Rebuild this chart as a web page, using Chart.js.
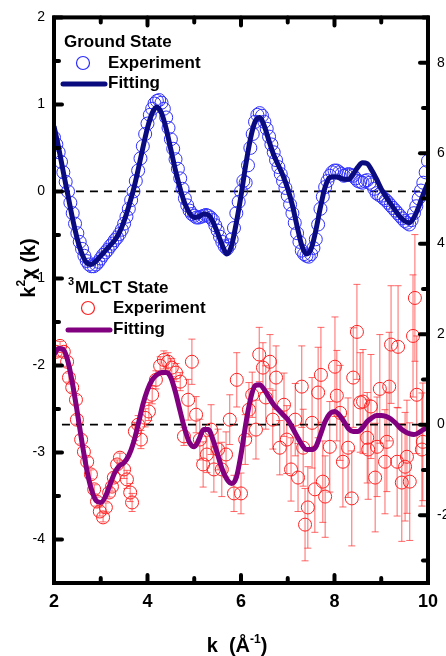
<!DOCTYPE html>
<html>
<head>
<meta charset="utf-8">
<script src="https://cdn.jsdelivr.net/npm/chart.js@4.4.1/dist/chart.umd.min.js"></script>
<style>
  body { margin: 0; background: #fff; }
</style>
</head>
<body>
<canvas id="myChart" width="446" height="656"></canvas>
<script>
// k grid for the ground state data and both fits (2.0 .. 10.0, step 0.1)
const kGrid = [];
for (let i = 0; i <= 80; i++) {
  kGrid.push(Math.round((2 + i * 0.1) * 10) / 10);
}
// in-between k values of the ground state measurement (2.05 .. 9.95)
const kMid = [];
for (let i = 0; i < 80; i++) {
  kMid.push(Math.round((2.05 + i * 0.1) * 100) / 100);
}

// ground state, left axis
const groundFit = [
  0.75, 0.50, 0.22, -0.05, -0.32, -0.55, -0.72, -0.82, -0.84, -0.80,
  -0.74, -0.68, -0.62, -0.56, -0.47, -0.34, -0.17, 0.02, 0.25, 0.50,
  0.73, 0.90, 0.97, 0.90, 0.72, 0.48, 0.24, 0.03, -0.14, -0.25,
  -0.30, -0.29, -0.26, -0.27, -0.35, -0.48, -0.62, -0.72, -0.62, -0.36,
  -0.05, 0.30, 0.60, 0.80, 0.85, 0.75, 0.58, 0.42, 0.30, 0.18,
  0.03, -0.16, -0.40, -0.62, -0.72, -0.66, -0.45, -0.18, 0.05, 0.16,
  0.17, 0.16, 0.14, 0.14, 0.20, 0.28, 0.33, 0.32, 0.24, 0.14,
  0.03, -0.06, -0.14, -0.22, -0.29, -0.34, -0.36, -0.30, -0.18, -0.03,
  0.10
];
const groundExp = [
  0.62, 0.45, 0.22, 0.00, -0.25, -0.48, -0.66, -0.80, -0.86, -0.84,
  -0.77, -0.70, -0.63, -0.56, -0.49, -0.37, -0.20, 0.00, 0.24, 0.52,
  0.78, 0.95, 1.04, 1.02, 0.85, 0.60, 0.37, 0.15, -0.08, -0.22,
  -0.28, -0.30, -0.28, -0.28, -0.33, -0.45, -0.58, -0.66, -0.55, -0.25,
  0.00, 0.10, 0.50, 0.80, 0.90, 0.80, 0.63, 0.45, 0.28, 0.12,
  -0.05, -0.25, -0.48, -0.68, -0.74, -0.72, -0.55, -0.20, 0.05, 0.18,
  0.24, 0.22, 0.18, 0.20, 0.18, 0.12, 0.10, 0.13, 0.08, -0.02,
  -0.05, -0.10, -0.16, -0.22, -0.28, -0.34, -0.38, -0.25, -0.08, 0.10,
  0.35
];
const groundExpMid = [
  0.54, 0.34, 0.11, -0.13, -0.37, -0.58, -0.74, -0.84, -0.86, -0.81,
  -0.73, -0.67, -0.60, -0.53, -0.44, -0.29, -0.10, 0.12, 0.38, 0.66,
  0.88, 1.01, 1.05, 0.95, 0.73, 0.49, 0.26, 0.03, -0.16, -0.26,
  -0.30, -0.29, -0.27, -0.30, -0.39, -0.52, -0.63, -0.62, -0.42, -0.12,
  0.12, 0.30, 0.66, 0.88, 0.87, 0.72, 0.54, 0.36, 0.20, 0.04,
  -0.15, -0.36, -0.58, -0.72, -0.75, -0.65, -0.38, -0.06, 0.12, 0.22,
  0.24, 0.20, 0.19, 0.19, 0.15, 0.11, 0.12, 0.10, 0.03, -0.04,
  -0.08, -0.13, -0.19, -0.25, -0.31, -0.36, -0.33, -0.17, 0.01, 0.22
];

// 3MLCT state, right axis
const mlctFit = [
  1.55, 1.68, 1.66, 1.39, 0.88, 0.26, -0.40, -0.99, -1.43, -1.68,
  -1.72, -1.59, -1.32, -1.06, -0.91, -0.84, -0.68, -0.40, 0.00, 0.44,
  0.77, 0.99, 1.10, 1.15, 1.15, 1.04, 0.71, 0.29, -0.11, -0.40,
  -0.49, -0.33, -0.11, -0.11, -0.33, -0.66, -0.99, -1.21, -1.30, -1.17,
  -0.66, 0.00, 0.55, 0.86, 0.88, 0.77, 0.60, 0.44, 0.33, 0.22,
  0.11, -0.07, -0.26, -0.44, -0.55, -0.55, -0.49, -0.22, 0.07, 0.24,
  0.29, 0.22, 0.07, -0.09, -0.15, -0.15, -0.07, 0.07, 0.15, 0.20,
  0.20, 0.18, 0.13, 0.04, -0.07, -0.15, -0.20, -0.22, -0.18, -0.11,
  -0.07
];
const mlctK = [
  2.04, 2.13, 2.21, 2.28, 2.32, 2.39, 2.47, 2.49, 2.58, 2.64,
  2.71, 2.79, 2.86, 2.92, 2.98, 3.05, 3.11, 3.18, 3.24, 3.28,
  3.35, 3.41, 3.50, 3.56, 3.63, 3.67, 3.73, 3.80, 3.86, 3.95,
  4.03, 4.10, 4.18, 4.27, 4.35, 4.44, 4.52, 4.61, 4.70, 4.78,
  4.87, 4.95, 5.04, 5.12, 5.19, 5.27, 5.36, 5.42, 5.51, 5.59,
  5.68, 5.76, 5.85, 5.91, 6.00, 6.09, 6.17, 6.24, 6.32, 6.39,
  6.47, 6.53, 6.62, 6.68, 6.75, 6.83, 6.92, 6.98, 7.07, 7.16,
  7.22,
  7.30, 7.33, 7.37, 7.43, 7.52, 7.58, 7.65, 7.71, 7.75, 7.80,
  7.90, 8.01, 8.05, 8.12, 8.18, 8.29, 8.37, 8.40, 8.48, 8.55,
  8.61, 8.70, 8.72, 8.78, 8.87, 8.91, 8.97, 9.08, 9.12, 9.17,
  9.21, 9.34, 9.36, 9.44, 9.51, 9.55, 9.61, 9.68, 9.72, 9.76,
  9.87, 9.89
];
const mlctExp = [
  1.61, 1.74, 1.61, 1.39, 1.04, 0.82, 0.55, 0.11, -0.33, -0.60,
  -0.82, -1.10, -1.43, -1.70, -1.92, -2.05, -1.83, -1.50, -1.37, -1.17,
  -0.88, -0.73, -0.99, -1.21, -1.50, -1.72, -0.15, 0.00, -0.33, 0.15,
  0.29, 0.66, 0.99, 1.30, 1.43, 1.39, 1.26, 1.15, 0.95, -0.26,
  0.55, 1.39, 0.22, -0.33, -0.88, -0.66, -0.11, -0.99, -0.55, -0.99,
  -0.66, 0.11, -1.52, 0.99, -1.52, -0.33, 0.33, 0.66, -0.11, 1.55,
  1.26, 0.60, 1.39, 0.11, 1.04, -0.51, 0.44, -0.33, -0.99, 0.11,
  -1.17,
  0.84, -0.51, -2.21, -1.83, 0.04, -1.43, 0.71, 1.10, -1.26, -1.59,
  -0.49, 1.28, 0.64, 0.26, -0.82, -0.51, -1.63, 1.04, 2.05, 0.49,
  0.51, -0.29, -0.55, 0.40, -1.17, -0.49, 0.79, -0.82, -0.38, 0.84,
  1.77, -0.82, 1.72, -1.28, -0.93, -0.71, -1.26, 1.96, 2.80, 0.66,
  -0.55, -0.38
];
const mlctErr = [
  0.1, 0.1, 0.1, 0.1, 0.1, 0.1, 0.1, 0.1, 0.1, 0.1,
  0.1, 0.1, 0.1, 0.1, 0.1, 0.1, 0.1, 0.1, 0.1, 0.1,
  0.1, 0.1, 0.2, 0.2, 0.2, 0.2, 0.2, 0.2, 0.2, 0.2,
  0.2, 0.2, 0.2, 0.2, 0.2, 0.2, 0.2, 0.2, 0.2, 0.2,
  0.45, 0.5, 0.4, 0.45, 0.5, 0.4, 0.55, 0.5, 0.45, 0.6,
  0.5, 0.55, 0.4, 0.6, 0.45, 0.55, 0.6, 0.5, 0.65, 0.6,
  0.55, 0.7, 0.6, 0.65, 0.7, 0.6, 0.7, 0.75, 0.7, 0.8,
  0.75,
  0.9, 0.85, 0.8, 0.9, 1.0, 0.95, 1.0, 1.05, 0.9, 0.9,
  1.0, 1.1, 1.0, 1.05, 1.0, 1.1, 1.05, 1.1, 1.05, 1.1,
  1.15, 1.0, 1.1, 1.15, 1.2, 1.1, 1.2, 1.15, 1.1, 1.2,
  1.3, 1.2, 1.35, 1.3, 1.2, 1.25, 1.3, 1.35, 1.4, 1.3,
  1.25, 1.3
];

// dashed baselines
const dashK = [2.17, 9.94];
const groundZero = [0, 0];
const mlctZero = [0, 0];

const FONT = '"Liberation Sans", Arial, sans-serif';
Chart.defaults.font.family = FONT;
Chart.defaults.color = '#000';

function pts(xs, ys) {
  return xs.map(function (x, i) { return { x: x, y: ys[i] }; });
}

// draws error bars, the thick frame, inward ticks, legends and axis titles
const decor = {
  id: 'decor',
  beforeDatasetsDraw(chart) {
    const ctx = chart.ctx, a = chart.chartArea;
    const xs = chart.scales.x, ys = chart.scales.y1;
    ctx.save();
    ctx.beginPath();
    ctx.rect(a.left, a.top, a.right - a.left, a.bottom - a.top);
    ctx.clip();
    ctx.strokeStyle = 'rgba(255,40,40,0.7)';
    ctx.lineWidth = 1;
    mlctK.forEach(function (k, i) {
      const x = xs.getPixelForValue(k);
      const yt = ys.getPixelForValue(mlctExp[i] + mlctErr[i]);
      const yb = ys.getPixelForValue(mlctExp[i] - mlctErr[i]);
      ctx.beginPath();
      ctx.moveTo(x, yt); ctx.lineTo(x, yb);
      ctx.moveTo(x - 3.5, yt); ctx.lineTo(x + 3.5, yt);
      ctx.moveTo(x - 3.5, yb); ctx.lineTo(x + 3.5, yb);
      ctx.stroke();
    });
    ctx.restore();
  },
  afterDraw(chart) {
    const ctx = chart.ctx, a = chart.chartArea;
    const xs = chart.scales.x, yl = chart.scales.y, yr = chart.scales.y1;
    ctx.save();
    ctx.strokeStyle = '#000';
    ctx.lineCap = 'round';
    ctx.lineWidth = 4;

    // ticks (inward)
    xs.ticks.forEach(function (t) {
      const x = xs.getPixelForValue(t.value);
      const len = t.value % 2 === 0 ? 8 : 5;
      ctx.beginPath();
      ctx.moveTo(x, a.bottom); ctx.lineTo(x, a.bottom - len);
      ctx.moveTo(x, a.top); ctx.lineTo(x, a.top + len);
      ctx.stroke();
    });
    yl.ticks.forEach(function (t) {
      const y = yl.getPixelForValue(t.value);
      const len = Number.isInteger(t.value) ? 8 : 5;
      ctx.beginPath();
      ctx.moveTo(a.left, y); ctx.lineTo(a.left + len, y);
      ctx.stroke();
    });
    yr.ticks.forEach(function (t) {
      if (!Number.isInteger(t.value)) return;
      const y = yr.getPixelForValue(t.value);
      const len = t.value % 2 === 0 ? 8 : 5;
      ctx.beginPath();
      ctx.moveTo(a.right, y); ctx.lineTo(a.right - len, y);
      ctx.stroke();
    });

    // frame
    ctx.lineCap = 'butt';
    ctx.strokeRect(a.left, a.top, a.right - a.left, a.bottom - a.top);

    // legend: ground state
    ctx.fillStyle = '#000';
    ctx.textBaseline = 'alphabetic';
    ctx.font = 'bold 17px ' + FONT;
    ctx.fillText('Ground State', 64, 47);
    ctx.textBaseline = 'middle';
    ctx.fillText('Experiment', 108, 63);
    ctx.fillText('Fitting', 108, 83);
    ctx.lineWidth = 1.2;
    ctx.strokeStyle = '#2a2aff';
    ctx.beginPath(); ctx.arc(83, 63, 6.5, 0, Math.PI * 2); ctx.stroke();
    ctx.lineWidth = 5;
    ctx.lineCap = 'round';
    ctx.strokeStyle = '#0b0b80';
    ctx.beginPath(); ctx.moveTo(63, 84); ctx.lineTo(105, 84); ctx.stroke();

    // legend: 3MLCT state
    ctx.textBaseline = 'alphabetic';
    ctx.font = 'bold 11px ' + FONT;
    ctx.fillText('3', 68, 285);
    ctx.font = 'bold 17px ' + FONT;
    ctx.fillText('MLCT State', 75, 293);
    ctx.textBaseline = 'middle';
    ctx.fillText('Experiment', 113, 308);
    ctx.fillText('Fitting', 113, 329);
    ctx.lineWidth = 1.2;
    ctx.strokeStyle = '#ff2020';
    ctx.beginPath(); ctx.arc(88, 308, 6.5, 0, Math.PI * 2); ctx.stroke();
    ctx.lineWidth = 5;
    ctx.strokeStyle = '#800080';
    ctx.beginPath(); ctx.moveTo(68, 330); ctx.lineTo(110, 330); ctx.stroke();

    // x title: k (Å-1)
    ctx.textBaseline = 'alphabetic';
    const big = 'bold 20px ' + FONT, small = 'bold 12px ' + FONT;
    ctx.font = big; const w1 = ctx.measureText('k  (Å').width;
    ctx.font = small; const w2 = ctx.measureText('-1').width;
    ctx.font = big; const w3 = ctx.measureText(')').width;
    let x0 = 237 - (w1 + w2 + w3) / 2;
    ctx.fillText('k  (Å', x0, 652);
    ctx.font = small; ctx.fillText('-1', x0 + w1, 643);
    ctx.font = big; ctx.fillText(')', x0 + w1 + w2, 652);

    // y title: k2χ (k)
    ctx.translate(35, 268);
    ctx.rotate(-Math.PI / 2);
    ctx.font = big; const a1 = ctx.measureText('k').width;
    ctx.font = small; const a2 = ctx.measureText('2').width;
    ctx.font = big; const a3 = ctx.measureText('χ (k)').width;
    let s = -(a1 + a2 + a3) / 2;
    ctx.fillText('k', s, 0);
    ctx.font = small; ctx.fillText('2', s + a1, -10);
    ctx.font = big; ctx.fillText('χ (k)', s + a1 + a2, 0);
    ctx.restore();
  }
};

const circleStyle = {
  yAxisID: 'y',
  showLine: false,
  pointRadius: 6.5,
  pointBorderWidth: 1,
  pointBorderColor: '#3030ff',
  pointBackgroundColor: 'rgba(0,0,0,0)'
};

const config = {
  type: 'line',
  data: {
    datasets: [
      {
        label: 'Ground Fitting',
        data: pts(kGrid, groundFit),
        yAxisID: 'y',
        borderColor: '#0b0b80',
        borderWidth: 5,
        pointRadius: 0,
        cubicInterpolationMode: 'monotone'
      },
      {
        label: 'MLCT Fitting',
        data: pts(kGrid, mlctFit),
        yAxisID: 'y1',
        borderColor: '#800080',
        borderWidth: 5,
        pointRadius: 0,
        cubicInterpolationMode: 'monotone'
      },
      Object.assign({ label: 'Ground Experiment', data: pts(kGrid, groundExp) }, circleStyle),
      Object.assign({ label: 'Ground Experiment b', data: pts(kMid, groundExpMid) }, circleStyle),
      {
        label: 'MLCT Experiment',
        data: pts(mlctK, mlctExp),
        yAxisID: 'y1',
        showLine: false,
        pointRadius: 6.5,
        pointBorderWidth: 1,
        pointBorderColor: '#ff2020',
        pointBackgroundColor: 'rgba(0,0,0,0)'
      },
      {
        label: 'ground zero',
        data: pts(dashK, groundZero),
        yAxisID: 'y',
        borderColor: '#000',
        borderWidth: 1.8,
        borderDash: [8, 6],
        pointRadius: 0
      },
      {
        label: 'mlct zero',
        data: pts(dashK, mlctZero),
        yAxisID: 'y1',
        borderColor: '#000',
        borderWidth: 1.8,
        borderDash: [8, 6],
        pointRadius: 0
      }
    ]
  },
  options: {
    responsive: false,
    animation: false,
    layout: { padding: { top: 17, left: 0, right: 0, bottom: 0 } },
    plugins: {
      legend: { display: false },
      tooltip: { enabled: false }
    },
    scales: {
      x: {
        type: 'linear',
        min: 2,
        max: 10,
        grid: { display: false, drawTicks: false },
        border: { display: false },
        ticks: {
          stepSize: 1,
          autoSkip: false,
          maxRotation: 0,
          padding: 8,
          font: { size: 18, weight: 'bold' },
          callback: function (v) { return v % 2 === 0 ? v : ''; }
        },
        afterFit: function (s) { s.height = 73; }
      },
      y: {
        position: 'left',
        min: -4.5,
        max: 2,
        grid: { display: false, drawTicks: false },
        border: { display: false },
        ticks: {
          stepSize: 0.5,
          autoSkip: false,
          padding: 9,
          font: { size: 14 },
          callback: function (v) { return Number.isInteger(v) ? v : ''; }
        },
        afterFit: function (s) { s.width = 54; }
      },
      y1: {
        position: 'right',
        min: -3.5,
        max: 9,
        grid: { display: false, drawTicks: false },
        border: { display: false },
        ticks: {
          stepSize: 1,
          autoSkip: false,
          padding: 9,
          font: { size: 14 },
          callback: function (v) { return (Number.isInteger(v) && v % 2 === 0) ? v : ''; }
        },
        afterFit: function (s) { s.width = 18; }
      }
    }
  },
  plugins: [decor]
};

new Chart(document.getElementById('myChart'), config);
</script>
</body>
</html>
